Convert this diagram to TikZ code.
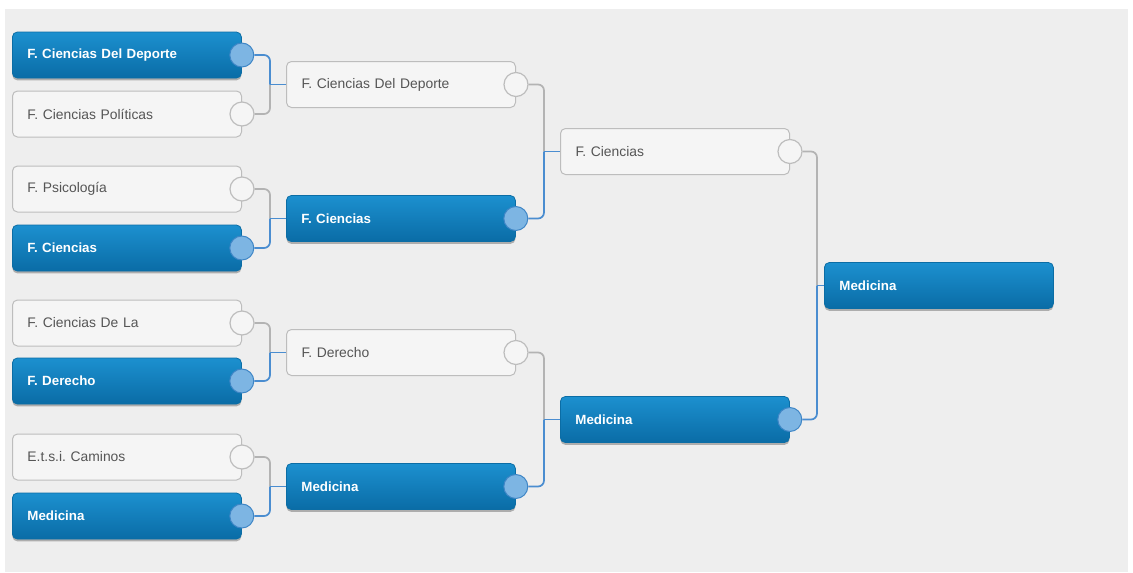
\documentclass[tikz,border=0pt]{standalone}
\usepackage{fontspec}
\setmainfont{Liberation Sans}
\usetikzlibrary{shadows}
\frenchspacing
\definecolor{bgc}{HTML}{EEEEEE}
\definecolor{boxtop}{HTML}{1C90CF}
\definecolor{boxbot}{HTML}{0A6CA6}
\definecolor{boxline}{HTML}{0B6DA5}
\definecolor{wfill}{HTML}{F5F5F5}
\definecolor{wline}{HTML}{BDBDBD}
\definecolor{wtext}{HTML}{555555}
\definecolor{cwin}{HTML}{7DB5E3}
\definecolor{cwinline}{HTML}{3F86C6}
\definecolor{linewin}{HTML}{4A8DD0}
\definecolor{linelose}{HTML}{B3B3B3}
\tikzset{
  px/.style={x=0.75pt,y=-0.75pt},
  teambox/.style={anchor=west, minimum width=229*0.75pt, minimum height=46*0.75pt,
    text width=199*0.75pt, inner xsep=15*0.75pt, inner ysep=0pt, align=left,
    rounded corners=5*0.75pt},
  winbox/.style={teambox, top color=boxtop, bottom color=boxbot, draw=boxline, line width=0.6pt,
    text=white, font=\fontsize{10}{11}\selectfont\bfseries,
    drop shadow={shadow xshift=0pt, shadow yshift=-1.8pt, opacity=0.4, fill=black!70}},
  losebox/.style={teambox, fill=wfill, draw=wline, line width=0.75pt,
    text=wtext, font=\fontsize{10.4}{11}\selectfont},
  wincirc/.style={circle, minimum size=24*0.75pt, inner sep=0pt, fill=cwin, draw=cwinline, line width=0.75pt},
  losecirc/.style={circle, minimum size=24*0.75pt, inner sep=0pt, fill=wfill, draw=wline, line width=0.9pt},
  wline/.style={draw=linewin, line width=1.3pt, rounded corners=6*0.75pt},
  lline/.style={draw=linelose, line width=1.3pt, rounded corners=6*0.75pt},
}
\begin{document}
\begin{tikzpicture}[px]
\useasboundingbox (0,0) rectangle (1133,572);
\fill[white] (0,0) rectangle (1133,572);
\fill[bgc] (5,9) rectangle (1128,572);

% column 1
\node[winbox]  (a1) at (12,55)  {F. Ciencias Del Deporte};
\node[losebox] (a2) at (12,114) {F. Ciencias Políticas};
\node[losebox] (a3) at (12,189) {F. Psicología};
\node[winbox]  (a4) at (12,248) {F. Ciencias};
\node[losebox] (a5) at (12,323) {F. Ciencias De La};
\node[winbox]  (a6) at (12,381) {F. Derecho};
\node[losebox] (a7) at (12,457) {E.t.s.i. Caminos};
\node[winbox]  (a8) at (12,516) {Medicina};
% column 2
\node[losebox] (b1) at (286,84.5)  {F. Ciencias Del Deporte};
\node[winbox]  (b2) at (286,218.5) {F. Ciencias};
\node[losebox] (b3) at (286,352.5) {F. Derecho};
\node[winbox]  (b4) at (286,486.5) {Medicina};
% column 3
\node[losebox] (c1) at (560,151.5) {F. Ciencias};
\node[winbox]  (c2) at (560,419.5) {Medicina};
% column 4
\node[winbox]  (d1) at (824,285.5) {Medicina};

% circles
\node[wincirc]  (ka1) at (a1.east) {};
\node[losecirc] (ka2) at (a2.east) {};
\node[losecirc] (ka3) at (a3.east) {};
\node[wincirc]  (ka4) at (a4.east) {};
\node[losecirc] (ka5) at (a5.east) {};
\node[wincirc]  (ka6) at (a6.east) {};
\node[losecirc] (ka7) at (a7.east) {};
\node[wincirc]  (ka8) at (a8.east) {};
\node[losecirc] (kb1) at (b1.east) {};
\node[wincirc]  (kb2) at (b2.east) {};
\node[losecirc] (kb3) at (b3.east) {};
\node[wincirc]  (kb4) at (b4.east) {};
\node[losecirc] (kc1) at (c1.east) {};
\node[wincirc]  (kc2) at (c2.east) {};

% junctions
\coordinate (j1) at (b1.west -| 270,0);
\coordinate (j2) at (b2.west -| 270,0);
\coordinate (j3) at (b3.west -| 270,0);
\coordinate (j4) at (b4.west -| 270,0);
\coordinate (j5) at (c1.west -| 544,0);
\coordinate (j6) at (c2.west -| 544,0);
\coordinate (j7) at (d1.west -| 817,0);

% connectors (losers first, winners on top)
\draw[lline] (ka2.east) -| (j1);
\draw[lline] (ka3.east) -| (j2);
\draw[lline] (ka5.east) -| (j3);
\draw[lline] (ka7.east) -| (j4);
\draw[lline] (kb1.east) -| (j5);
\draw[lline] (kb3.east) -| (j6);
\draw[lline] (kc1.east) -| (j7);

\draw[wline] (ka1.east) -| (j1);
\draw[wline] (ka4.east) -| (j2);
\draw[wline] (ka6.east) -| (j3);
\draw[wline] (ka8.east) -| (j4);
\draw[wline] (kb2.east) -| (j5);
\draw[wline] (kb4.east) -| (j6);
\draw[wline] (kc2.east) -| (j7);

\draw[wline] (j1) -- (b1.west);
\draw[wline] (j2) -- (b2.west);
\draw[wline] (j3) -- (b3.west);
\draw[wline] (j4) -- (b4.west);
\draw[wline] (j5) -- (c1.west);
\draw[wline] (j6) -- (c2.west);
\draw[wline] (j7) -- (d1.west);
\end{tikzpicture}
\end{document}
